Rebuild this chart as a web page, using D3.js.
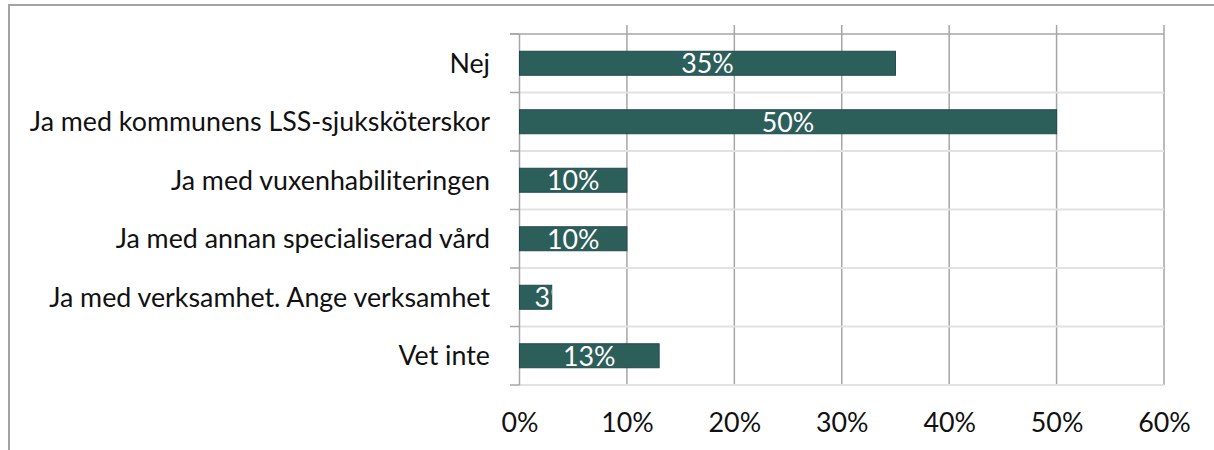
<!DOCTYPE html>
<html>
<head>
<meta charset="utf-8">
<script src="https://cdn.jsdelivr.net/npm/d3@7"></script>
<style>
  html, body { margin: 0; padding: 0; background: #fff; }
  svg { display: block; font-family: Lato, "Open Sans", sans-serif; }
</style>
</head>
<body>
<svg id="chart" width="1214" height="450"></svg>
<script>
// Survey answers and their shares (percent)
const categories = [
  "Nej",
  "Ja med kommunens LSS-sjuksköterskor",
  "Ja med vuxenhabiliteringen",
  "Ja med annan specialiserad vård",
  "Ja med verksamhet. Ange verksamhet",
  "Vet inte"
];
const values = [35, 50, 10, 10, 3, 13];
const tickValues = [0, 10, 20, 30, 40, 50, 60];

const W = 1214, H = 450;
const margin = { top: 34, right: 50, bottom: 65, left: 519.5 };
const fontSize = 26.8;
const barColor = "#2c5e5a";
const barEdge = "#22494f";
const textColor = "#111111";

const svg = d3.select("#chart");

// outer frame (left and top edges)
svg.append("path")
  .attr("d", `M9,${H} L9,5 L${W},5`)
  .attr("fill", "none")
  .attr("stroke", "#a3a3a3")
  .attr("stroke-width", 2);

const x = d3.scaleLinear().domain([0, 60]).range([margin.left, W - margin.right]);
const y = d3.scaleBand().domain(categories).range([margin.top, H - margin.bottom])
  .paddingInner(0.59).paddingOuter(0.295);

const bandTop = margin.top, bandBottom = H - margin.bottom;

// vertical gridlines
svg.append("g")
  .selectAll("line")
  .data(tickValues.slice(1))
  .join("line")
  .attr("x1", d => x(d)).attr("x2", d => x(d))
  .attr("y1", 25).attr("y2", bandBottom)
  .attr("stroke", "#a6a6a6").attr("stroke-width", 1.5);

// category separators
const step = (bandBottom - bandTop) / categories.length;
const seps = d3.range(1, categories.length + 1).map(i => bandTop + i * step);
svg.append("g")
  .selectAll("line")
  .data(seps)
  .join("line")
  .attr("x1", margin.left).attr("x2", x(60))
  .attr("y1", d => d).attr("y2", d => d)
  .attr("stroke", "#e2e2e2").attr("stroke-width", 2);

svg.append("line")
  .attr("x1", 510).attr("x2", x(60))
  .attr("y1", bandTop).attr("y2", bandTop)
  .attr("stroke", "#a6a6a6").attr("stroke-width", 1.5);

// category axis with outward ticks at band boundaries
const yAxisG = svg.append("g");
yAxisG.append("line")
  .attr("x1", margin.left).attr("x2", margin.left)
  .attr("y1", bandTop).attr("y2", bandBottom)
  .attr("stroke", "#a6a6a6").attr("stroke-width", 1.5);
yAxisG.selectAll("line.tick")
  .data([bandTop, ...seps])
  .join("line")
  .attr("class", "tick")
  .attr("x1", 510).attr("x2", margin.left)
  .attr("y1", d => d).attr("y2", d => d)
  .attr("stroke", "#a6a6a6").attr("stroke-width", 1.5);

yAxisG.selectAll("text")
  .data(categories)
  .join("text")
  .attr("x", 490)
  .attr("y", d => y(d) + y.bandwidth() / 2)
  .attr("dy", "0.35em")
  .attr("text-anchor", "end")
  .attr("font-size", fontSize)
  .attr("fill", textColor)
  .text(d => d);

// value axis labels
const xAxis = d3.axisBottom(x).tickValues(tickValues).tickFormat(d => d + "%").tickSize(0).tickPadding(0);
const xAxisG = svg.append("g").attr("transform", `translate(0,${bandBottom + 28})`).call(xAxis);
xAxisG.select(".domain").remove();
xAxisG.selectAll("text")
  .attr("font-size", fontSize)
  .attr("font-family", "Lato, 'Open Sans', sans-serif")
  .attr("fill", textColor);

// bars
const bars = svg.append("g");
const defs = svg.append("defs");
categories.forEach((c, i) => {
  defs.append("clipPath").attr("id", "clip" + i)
    .append("rect")
    .attr("x", x(0)).attr("y", y(c))
    .attr("width", x(values[i]) - x(0)).attr("height", y.bandwidth());
});

bars.selectAll("rect")
  .data(values)
  .join("rect")
  .attr("x", x(0))
  .attr("y", (d, i) => y(categories[i]))
  .attr("width", d => x(d) - x(0))
  .attr("height", y.bandwidth())
  .attr("fill", barColor)
  .attr("stroke", barEdge)
  .attr("stroke-width", 1);

// value labels centred in bars, clipped to the bar
const labels = svg.append("g");
values.forEach((v, i) => {
  const t = labels.append("text")
    .attr("clip-path", `url(#clip${i})`)
    .attr("y", y(categories[i]) + y.bandwidth() / 2)
    .attr("dy", "0.38em")
    .attr("font-size", fontSize)
    .attr("fill", "#ffffff")
    .text(v + "%");
  const w = t.node().getComputedTextLength();
  const barW = x(v) - x(0);
  const cx = x(v / 2);
  if (w > barW) {
    t.attr("x", cx - 1).attr("text-anchor", "start");
  } else {
    t.attr("x", cx).attr("text-anchor", "middle");
  }
});
</script>
</body>
</html>
